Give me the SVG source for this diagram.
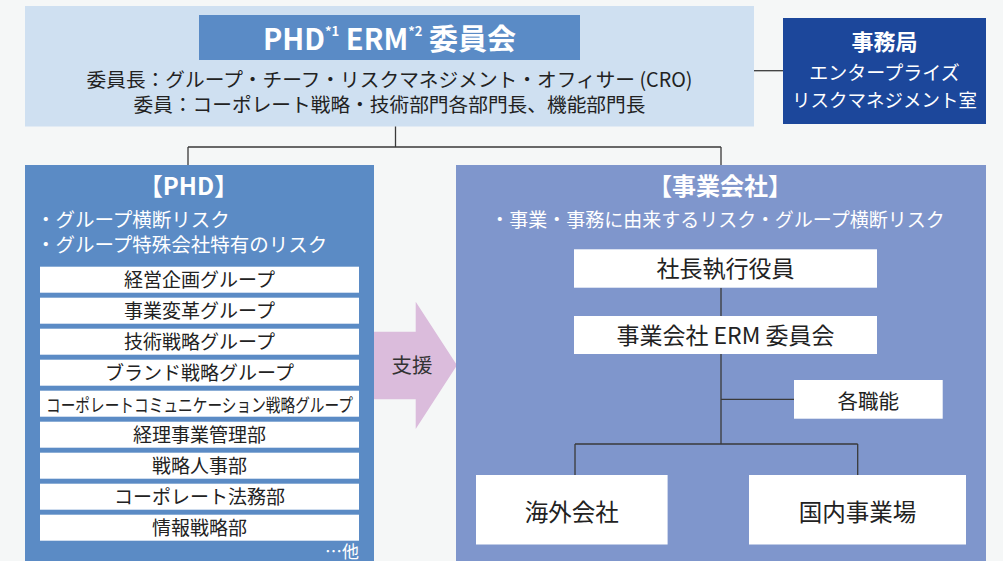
<svg xmlns="http://www.w3.org/2000/svg" width="1003" height="561" viewBox="0 0 1003 561">
<style>
text{font-family:"Noto Sans CJK JP","Noto Sans",sans-serif;}
.w{fill:#ffffff;}
.d{fill:#222222;}
.b{font-weight:bold;}
.item{fill:#ffffff;}
.c{text-anchor:middle;}
.conn{stroke:#3a3a3a;stroke-width:1.3;fill:none;}
</style>
<rect x="0" y="0" width="1003" height="561" fill="#f5f7f7"/>

<g id="committee">
<rect x="25" y="6" width="729" height="120.5" fill="#cfe0f1"/>
<rect x="199" y="15" width="381" height="45" fill="#5a8bc6"/>
<text class="w b c" x="389.5" y="50" font-size="29">PHD<tspan font-size="13" dy="-14">*1</tspan><tspan dy="14"> ERM</tspan><tspan font-size="13" dy="-14">*2</tspan><tspan dy="14"> 委員会</tspan></text>
<text class="d c" x="389.5" y="86.5" font-size="19.7">委員長：グループ・チーフ・リスクマネジメント・オフィサー (CRO)</text>
<text class="d c" x="389.5" y="112" font-size="19.7">委員：コーポレート戦略・技術部門各部門長、機能部門長</text>
</g>

<g id="secretariat">
<rect x="783" y="18" width="203" height="106" fill="#1c479b"/>
<text class="w b c" x="884.5" y="50" font-size="22">事務局</text>
<text class="w c" x="884.5" y="80" font-size="19">エンタープライズ</text>
<text class="w c" x="884.5" y="107" font-size="18.5">リスクマネジメント室</text>
</g>

<g id="phd">
<rect x="25" y="165" width="349" height="397" fill="#5b8bc5"/>
<text class="w b c" x="188.5" y="195" font-size="24">【PHD】</text>
<text class="w" x="36" y="227" font-size="19.5">・グループ横断リスク</text>
<text class="w" x="36" y="252" font-size="19.5">・グループ特殊会社特有のリスク</text>
<g id="phd-items">
<rect class="item" x="40" y="266.7" width="319" height="26"/>
<rect class="item" x="40" y="297.7" width="319" height="26"/>
<rect class="item" x="40" y="328.7" width="319" height="26"/>
<rect class="item" x="40" y="359.7" width="319" height="26"/>
<rect class="item" x="40" y="390.7" width="319" height="26"/>
<rect class="item" x="40" y="421.7" width="319" height="26"/>
<rect class="item" x="40" y="452.7" width="319" height="26"/>
<rect class="item" x="40" y="483.7" width="319" height="26"/>
<rect class="item" x="40" y="514.7" width="319" height="26"/>
<text class="d c" x="199.5" y="287.2" font-size="19">経営企画グループ</text>
<text class="d c" x="199.5" y="318.2" font-size="19">事業変革グループ</text>
<text class="d c" x="199.5" y="349.2" font-size="19">技術戦略グループ</text>
<text class="d c" x="199.5" y="380.2" font-size="19">ブランド戦略グループ</text>
<text class="d" x="46" y="411.5" font-size="18.5" textLength="307" lengthAdjust="spacingAndGlyphs">コーポレートコミュニケーション戦略グループ</text>
<text class="d c" x="199.5" y="442.2" font-size="19">経理事業管理部</text>
<text class="d c" x="199.5" y="473.2" font-size="19">戦略人事部</text>
<text class="d c" x="199.5" y="504.2" font-size="19">コーポレート法務部</text>
<text class="d c" x="199.5" y="535.2" font-size="19">情報戦略部</text>
</g>
<text class="w" x="359" y="558" font-size="17" text-anchor="end">…他</text>
</g>

<g id="support-arrow">
<polygon points="374,331.7 415.7,331.7 415.7,301.7 457,365.3 415.7,429 415.7,399.3 374,399.3" fill="#dbbcdc"/>
<text class="c" x="412" y="372.5" font-size="20.5" fill="#333333">支援</text>
</g>

<g id="operating-companies">
<rect x="456" y="165" width="530" height="397" fill="#7f96cc"/>
<text class="w b c" x="720" y="195" font-size="24">【事業会社】</text>
<text class="w c" x="717.5" y="227" font-size="19">・事業・事務に由来するリスク・グループ横断リスク</text>
</g>

<g id="connectors">
<path class="conn" d="M754 70.7 H783"/>
<path class="conn" d="M395.5 126.5 V147 M188 147 H721 M188 147 V165 M721 147 V165"/>
<path class="conn" d="M721 287.7 V316 M721 354 V444 M721 399.3 H794 M575 444 H857.7 M575 444 V475 M857.7 444 V475"/>
</g>

<g id="president">
<rect x="574" y="249.3" width="303" height="38.4" fill="#ffffff"/>
<text class="d c" x="725.5" y="277" font-size="23">社長執行役員</text>
</g>

<g id="op-erm">
<rect x="574" y="316" width="303" height="38" fill="#ffffff"/>
<text class="d c" x="725.5" y="343.5" font-size="23">事業会社 ERM 委員会</text>
</g>

<g id="functions">
<rect x="794" y="380" width="148.7" height="38.7" fill="#ffffff"/>
<text class="d c" x="868.3" y="409" font-size="20.5">各職能</text>
</g>

<g id="overseas">
<rect x="476" y="475" width="191.6" height="69.5" fill="#ffffff"/>
<text class="d c" x="571.8" y="521" font-size="23.5">海外会社</text>
</g>

<g id="domestic">
<rect x="749" y="475" width="217" height="69.5" fill="#ffffff"/>
<text class="d c" x="857.5" y="521" font-size="23.5">国内事業場</text>
</g>
</svg>
